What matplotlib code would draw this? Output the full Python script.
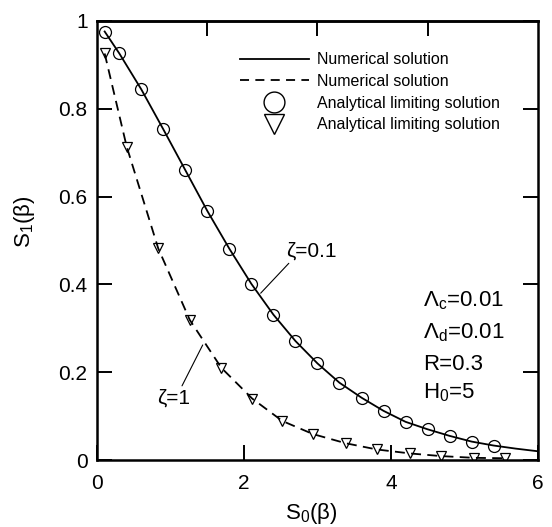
"""
S1 vs S0 for two zeta values: numerical curves and analytical limiting points.
"""

import matplotlib

matplotlib.use("Agg")
import matplotlib.pyplot as plt
from matplotlib.lines import Line2D

plt.rcParams["font.family"] = ["Liberation Sans", "DejaVu Sans"]
plt.rcParams["mathtext.fontset"] = "custom"
plt.rcParams["mathtext.rm"] = "Liberation Sans"
plt.rcParams["mathtext.it"] = "Liberation Sans"

# zeta = 0.1 : numerical curve and analytical points
num_x_01 = [0.1, 0.3, 0.6, 0.9, 1.2, 1.5, 1.8, 2.1, 2.4, 2.7, 3.0, 3.3,
            3.6, 3.9, 4.2, 4.5, 4.8, 5.1, 5.4, 5.7, 6.0]
num_y_01 = [0.976, 0.926, 0.844, 0.753, 0.660, 0.567, 0.481, 0.401, 0.331,
            0.271, 0.220, 0.176, 0.142, 0.112, 0.087, 0.070, 0.055, 0.042,
            0.033, 0.026, 0.020]
ana_x_01 = [0.1, 0.3, 0.6, 0.9, 1.2, 1.5, 1.8, 2.1, 2.4, 2.7, 3.0, 3.3,
            3.6, 3.9, 4.2, 4.5, 4.8, 5.1, 5.4]
ana_y_01 = [0.976, 0.926, 0.844, 0.753, 0.660, 0.567, 0.481, 0.401, 0.331,
            0.271, 0.220, 0.176, 0.142, 0.112, 0.087, 0.070, 0.055, 0.042,
            0.033]

# zeta = 1
num_x_1 = [0.1, 0.4, 0.83, 1.26, 1.69, 2.11, 2.52, 2.94, 3.39, 3.81, 4.26,
           4.68, 5.13, 5.56]
num_y_1 = [0.926, 0.714, 0.482, 0.319, 0.210, 0.140, 0.089, 0.059, 0.038,
           0.024, 0.015, 0.009, 0.005, 0.004]
ana_x_1 = num_x_1
ana_y_1 = num_y_1

params = [r"$\Lambda_\mathrm{c}$=0.01", r"$\Lambda_\mathrm{d}$=0.01",
          "R=0.3", r"H$_\mathrm{0}$=5"]
params_y = [0.351, 0.278, 0.205, 0.141]


def main() -> None:
    fig = plt.figure(figsize=(5.52, 5.27), dpi=100)
    ax = fig.add_axes([0.1763, 0.1271, 0.7977, 0.8331])

    ax.plot(num_x_01, num_y_01, color="black", lw=1.3)
    ax.plot(num_x_1, num_y_1, color="black", lw=1.3, dashes=(5.5, 3.5))
    ax.plot(ana_x_01, ana_y_01, "o", ms=8.6, mfc="none", mec="black", mew=0.9)
    ax.plot(ana_x_1, ana_y_1, "v", ms=7.5, mfc="none", mec="black", mew=0.9)

    handles = [
        Line2D([], [], color="black", lw=1.3),
        Line2D([], [], color="black", lw=1.3, dashes=(5.0, 3.5)),
        Line2D([], [], ls="none", marker="o", ms=15, mfc="none", mec="black", mew=1.0),
        Line2D([], [], ls="none", marker="v", ms=15, mfc="none", mec="black", mew=1.0),
    ]
    labels = ["Numerical solution", "Numerical solution",
              "Analytical limiting solution", "Analytical limiting solution"]
    ax.legend(handles, labels, loc="upper left", bbox_to_anchor=(0.324, 0.929),
              frameon=False, fontsize=11.5, handlelength=4.3, handletextpad=0.5,
              labelspacing=0.42, borderpad=0, borderaxespad=0)

    ax.annotate("ζ=0.1", xy=(2.226, 0.380), xytext=(2.92, 0.476),
                fontsize=15, ha="center", va="center",
                arrowprops=dict(arrowstyle="-", lw=0.8, color="black",
                                shrinkA=0, shrinkB=0, relpos=(0.1, 0.0)))
    ax.annotate("ζ=1", xy=(1.436, 0.262), xytext=(1.045, 0.141),
                fontsize=15, ha="center", va="center",
                arrowprops=dict(arrowstyle="-", lw=0.8, color="black",
                                shrinkA=0, shrinkB=0, relpos=(0.7, 1.0)))

    for text, y in zip(params, params_y):
        ax.text(4.44, y, text, fontsize=16, ha="left", va="baseline")

    ax.set_xlim(0, 6)
    ax.set_ylim(0, 1)
    ax.set_xticks([0, 2, 4, 6])
    ax.set_xticklabels(["0", "2", "4", "6"])
    ax.set_yticks([0, 0.2, 0.4, 0.6, 0.8, 1])
    ax.set_yticklabels(["0", "0.2", "0.4", "0.6", "0.8", "1"])
    ax.tick_params(axis="both", direction="in", length=11, width=1.4,
                   labelsize=15, right=True)
    ax.tick_params(axis="x", pad=10)
    ax.tick_params(axis="y", pad=7)

    top = ax.secondary_xaxis("top")
    top.set_xticks([1.5, 3.0, 4.5])
    top.set_xticklabels([])
    top.tick_params(direction="in", length=11, width=1.4)
    top.spines["top"].set_linewidth(1.8)

    for spine in ax.spines.values():
        spine.set_linewidth(1.8)

    ax.set_xlabel(r"S$_\mathrm{0}$(β)", fontsize=16)
    ax.set_ylabel(r"S$_\mathrm{1}$(β)", fontsize=16)
    ax.xaxis.set_label_coords(0.485, -0.093)
    ax.yaxis.set_label_coords(-0.136, 0.542)

    fig.savefig("out.png", dpi=100)
    plt.close(fig)


if __name__ == "__main__":
    main()
